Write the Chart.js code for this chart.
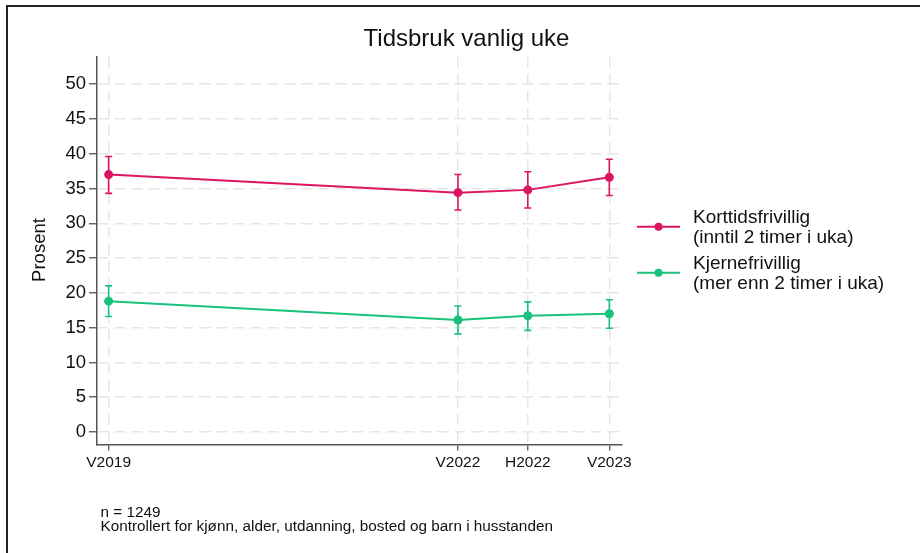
<!DOCTYPE html>
<html>
<head>
<meta charset="utf-8">
<script src="https://cdn.jsdelivr.net/npm/chart.js@4.4.1/dist/chart.umd.min.js"></script>
<style>
  html, body { margin: 0; padding: 0; background: #ffffff; }
  #wrap { position: relative; width: 920px; height: 553px; overflow: hidden; }
  #c { position: absolute; left: 0; top: 0; }
  #frame { position: absolute; left: 6px; top: 5px; width: 940px; height: 600px;
           border-top: 2px solid #222; border-left: 2px solid #222; pointer-events: none; }
</style>
</head>
<body>
<div id="wrap">
  <canvas id="c" width="920" height="553"></canvas>
  <div id="frame"></div>
</div>
<script>
// ---- data ----
const waveLabels   = ["V2019", "V2022", "H2022", "V2023"];
const waveTimes    = [2019.25, 2022.25, 2022.85, 2023.55];   // survey time (years)
const shortValues  = [37.0, 34.4, 34.8, 36.6];               // Korttidsfrivillig
const shortLow     = [34.3, 31.9, 32.2, 34.0];
const shortHigh    = [39.6, 37.0, 37.4, 39.2];
const coreValues   = [18.8, 16.1, 16.7, 17.0];               // Kjernefrivillig
const coreLow      = [16.6, 14.1, 14.6, 14.9];
const coreHigh     = [21.0, 18.1, 18.7, 19.0];
const yTicks       = [0, 5, 10, 15, 20, 25, 30, 35, 40, 45, 50];
const seriesNames  = [["Korttidsfrivillig", "(inntil 2 timer i uka)"],
                      ["Kjernefrivillig", "(mer enn 2 timer i uka)"]];
const titleText    = "Tidsbruk vanlig uke";
const yTitle       = "Prosent";
const notes        = ["n = 1249", "Kontrollert for kjønn, alder, utdanning, bosted og barn i husstanden"];

const RED = "#dc1462";
const GREEN = "#18c27c";
const FONT = "'Liberation Sans', Arial, Helvetica, sans-serif";

function pts(vals) { return vals.map((v, i) => ({ x: waveTimes[i], y: v })); }

const errorBars = {
  id: "errorBars",
  beforeDatasetsDraw(chart) {
    const { ctx, scales: { x, y } } = chart;
    const sets = [[shortLow, shortHigh, RED], [coreLow, coreHigh, GREEN]];
    ctx.save();
    ctx.lineWidth = 1.6;
    sets.forEach(([lo, hi, col]) => {
      ctx.strokeStyle = col;
      waveTimes.forEach((t, i) => {
        const px = x.getPixelForValue(t);
        const y1 = y.getPixelForValue(lo[i]);
        const y2 = y.getPixelForValue(hi[i]);
        ctx.beginPath();
        ctx.moveTo(px, y1); ctx.lineTo(px, y2);
        ctx.moveTo(px - 3.5, y1); ctx.lineTo(px + 3.5, y1);
        ctx.moveTo(px - 3.5, y2); ctx.lineTo(px + 3.5, y2);
        ctx.stroke();
      });
    });
    ctx.restore();
  }
};

const decorations = {
  id: "decorations",
  afterDraw(chart) {
    const { ctx } = chart;
    ctx.save();
    ctx.fillStyle = "#111";
    // title
    ctx.font = "24px " + FONT;
    ctx.textAlign = "center";
    ctx.textBaseline = "alphabetic";
    ctx.fillText(titleText, 466.5, 45.5);
    // y axis title
    ctx.save();
    ctx.translate(44.5, 250);
    ctx.rotate(-Math.PI / 2);
    ctx.font = "18.5px " + FONT;
    ctx.textAlign = "center";
    ctx.fillText(yTitle, 0, 0);
    ctx.restore();
    // legend
    const cols = [RED, GREEN];
    const rows = [226.7, 272.7];
    ctx.font = "19px " + FONT;
    ctx.textAlign = "left";
    rows.forEach((ry, k) => {
      ctx.strokeStyle = cols[k];
      ctx.lineWidth = 2;
      ctx.beginPath(); ctx.moveTo(637, ry); ctx.lineTo(680, ry); ctx.stroke();
      ctx.fillStyle = cols[k];
      ctx.beginPath(); ctx.arc(658.5, ry, 4, 0, Math.PI * 2); ctx.fill();
      ctx.fillStyle = "#111";
      ctx.fillText(seriesNames[k][0], 693, ry - 3.5);
      ctx.fillText(seriesNames[k][1], 693, ry + 16.5);
    });
    // notes
    ctx.font = "15.3px " + FONT;
    ctx.fillText(notes[0], 100.5, 516.7);
    ctx.fillText(notes[1], 100.5, 530.7);
    ctx.restore();
  }
};

new Chart(document.getElementById("c"), {
  type: "line",
  data: {
    datasets: [
      { label: seriesNames[0].join(" "), data: pts(shortValues), borderColor: RED, backgroundColor: RED,
        borderWidth: 2, pointRadius: 4.5, pointHoverRadius: 4.5, pointBorderWidth: 0, tension: 0 },
      { label: seriesNames[1].join(" "), data: pts(coreValues), borderColor: GREEN, backgroundColor: GREEN,
        borderWidth: 2, pointRadius: 4.5, pointHoverRadius: 4.5, pointBorderWidth: 0, tension: 0 }
    ]
  },
  options: {
    responsive: false,
    animation: false,
    events: [],
    layout: { padding: { left: 0, right: 298, top: 57, bottom: 0 } },
    plugins: { legend: { display: false }, title: { display: false }, tooltip: { enabled: false } },
    scales: {
      x: {
        type: "linear",
        min: 2019.15, max: 2023.659,
        afterBuildTicks(scale) { scale.ticks = waveTimes.map(v => ({ value: v })); },
        afterFit(scale) { scale.height = 108.5; },
        ticks: {
          autoSkip: false, maxRotation: 0, padding: 3,
          color: "#111", font: { family: FONT, size: 15.5 },
          callback(value) { const i = waveTimes.indexOf(value); return i >= 0 ? waveLabels[i] : ""; }
        },
        grid: { color: "#e6e6e6", lineWidth: 1.5, tickColor: "#555", tickLength: 6, tickWidth: 1.3 },
        border: { display: true, color: "#555", width: 1.5, dash: [11, 6] }
      },
      y: {
        min: -1.8, max: 53.9,
        afterBuildTicks(scale) { scale.ticks = yTicks.map(v => ({ value: v })); },
        afterFit(scale) { scale.width = 97; },
        ticks: { padding: 3, color: "#111", font: { family: FONT, size: 18.5 } },
        grid: { color: "#e6e6e6", lineWidth: 1.5, tickColor: "#555", tickLength: 8, tickWidth: 1.3 },
        border: { display: true, color: "#555", width: 1.5, dash: [11, 6] }
      }
    }
  },
  plugins: [errorBars, decorations]
});
</script>
</body>
</html>
